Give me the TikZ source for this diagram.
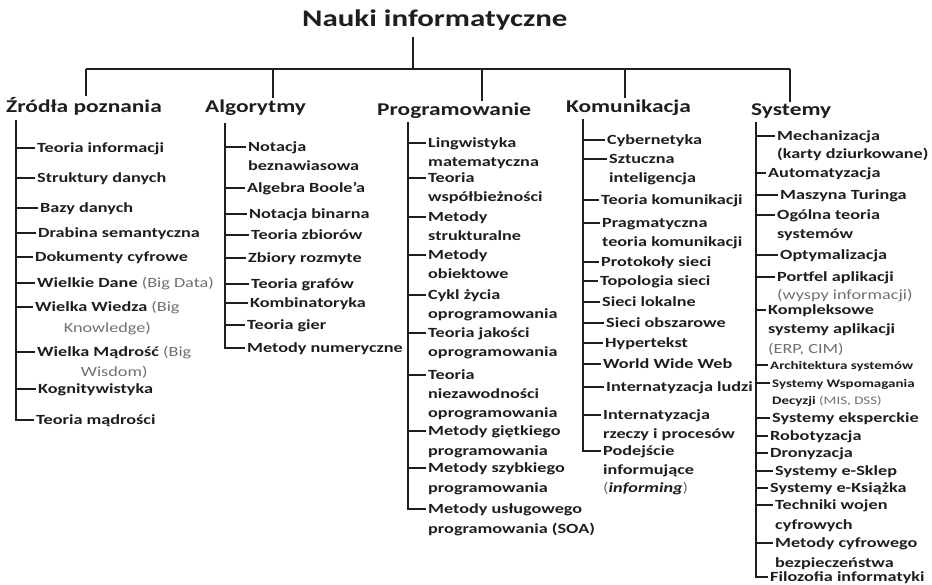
\documentclass[tikz,border=0pt]{standalone}
\usepackage{fontspec}
\setmainfont{Carlito}[FakeStretch=1.3]
\usetikzlibrary{calc}
\definecolor{ink}{HTML}{1E1E1E}
\definecolor{gr}{HTML}{707070}
\newcommand\gtx[1]{{\mdseries\color{gr}#1}}
% #1 extra options, #2 name, #3 trunk x, #4 text x, #5 tick y, #6 text
\newcommand\leaf[6][]{%
  \node[leaf,#1,anchor=base west] (#2) at ({#4-2},{#5+4.5})
    {\begin{tabular}[t]{@{}l@{}}#6\end{tabular}};
  \coordinate (#2-t) at (#3,#5);
  \draw[ln] (#2-t) -- (#2-t -| #2.west);
}
\newcommand\leafc[6][]{%
  \node[leaf,#1,anchor=base west] (#2) at ({#4-2},{#5+4.5})
    {\begin{tabular}[t]{@{}c@{}}#6\end{tabular}};
  \coordinate (#2-t) at (#3,#5);
  \draw[ln] (#2-t) -- (#2-t -| #2.west);
}
\begin{document}
\begin{tikzpicture}[x=1pt,y=-1pt,
  ln/.style={draw=ink,line width=1.3pt},
  leaf/.style={inner xsep=2pt,inner ysep=0pt,text=ink,
    font=\fontsize{14}{19.5}\selectfont\bfseries},
  small/.style={font=\fontsize{11.5}{17}\selectfont\bfseries},
  head/.style={inner xsep=0pt,inner ysep=2pt,text=ink,
    font=\fontsize{18}{22}\selectfont\bfseries},
  ttl/.style={inner xsep=0pt,inner ysep=6pt,text=ink,
    font=\fontsize{23.8}{28}\selectfont\bfseries}]
\useasboundingbox[fill=white] (0,0) rectangle (932,585);

% title and headings
\node[ttl,anchor=base west] (root) at (302,27) {Nauki informatyczne};
\node[head,anchor=base west] (h1) at (6,113) {Źródła poznania};
\node[head,anchor=base west] (h2) at (205,113) {Algorytmy};
\node[head,anchor=base west] (h3) at (377,116) {Programowanie};
\node[head,anchor=base west] (h4) at (566,113) {Komunikacja};
\node[head,anchor=base west] (h5) at (751,116) {Systemy};

% bar
\coordinate (k0) at (413,69);
\coordinate (k1) at (86,69);
\coordinate (k2) at (273,69);
\coordinate (k3) at (482,69);
\coordinate (k4) at (625,69);
\coordinate (k5) at (790,69);
\draw[ln] (k1) -- (k5);
\draw[ln] (root.south -| k0) -- (k0);
\foreach \i in {1,...,5} {\draw[ln] (k\i) -- (k\i |- h\i.north);}

% column 1
\leaf{a1}{16}{37}{148}{Teoria informacji}
\leaf{a2}{16}{37}{178}{Struktury danych}
\leaf{a3}{16}{40}{208}{Bazy danych}
\leaf{a4}{16}{38}{233}{Drabina semantyczna}
\leaf{a5}{16}{35}{257}{Dokumenty cyfrowe}
\leaf{a6}{16}{37}{283}{Wielkie Dane \gtx{(Big Data)}}
\leafc[font=\fontsize{14}{21}\selectfont\bfseries]{a7}{16}{35}{307}{Wielka Wiedza \gtx{(Big}\\\gtx{Knowledge)}}
\leafc[font=\fontsize{14}{20}\selectfont\bfseries]{a8}{16}{37}{352}{Wielka Mądrość \gtx{(Big}\\\gtx{Wisdom)}}
\leaf{a9}{16}{38}{389}{Kognitywistyka}
\leaf{a10}{16}{36}{420}{Teoria mądrości}
\coordinate (t1) at (16,120);
\draw[ln] (t1) -- (a10-t) -- (a10-t -| a10.west);

% column 2
\leaf[font=\fontsize{14}{19}\selectfont\bfseries]{b1}{225}{248}{147}{Notacja\\beznawiasowa}
\leaf{b2}{225}{247}{188}{Algebra Boole’a}
\leaf{b3}{225}{249}{214}{Notacja binarna}
\leaf{b4}{225}{251}{235}{Teoria zbiorów}
\leaf{b5}{225}{248}{258}{Zbiory rozmyte}
\leaf{b6}{225}{251}{284}{Teoria grafów}
\leaf{b7}{225}{250}{303}{Kombinatoryka}
\leaf{b8}{225}{247}{325}{Teoria gier}
\leaf{b9}{225}{247}{348}{Metody numeryczne}
\coordinate (t2) at (225,123);
\draw[ln] (t2) -- (b9-t) -- (b9-t -| b9.west);

% column 3
\leaf{c1}{408}{428}{143}{Lingwistyka\\matematyczna}
\leaf{c2}{408}{428}{178}{Teoria\\współbieżności}
\leaf{c3}{408}{428}{217}{Metody\\strukturalne}
\leaf{c4}{408}{428}{255}{Metody\\obiektowe}
\leaf{c5}{408}{428}{295}{Cykl życia\\oprogramowania}
\leaf{c6}{408}{428}{333}{Teoria jakości\\oprogramowania}
\leaf[font=\fontsize{14}{19}\selectfont\bfseries]{c7}{408}{428}{375}{Teoria\\niezawodności\\oprogramowania}
\leaf{c8}{408}{428}{431}{Metody giętkiego\\programowania}
\leaf{c9}{408}{428}{468}{Metody szybkiego\\programowania}
\leaf{c10}{408}{428}{509}{Metody usługowego\\programowania (SOA)}
\coordinate (t3) at (408,122);
\draw[ln] (t3) -- (c10-t) -- (c10-t -| c10.west);

% column 4
\leaf{d1}{583}{607}{140}{Cybernetyka}
\leaf[font=\fontsize{14}{19}\selectfont\bfseries]{d2}{583}{609}{159}{Sztuczna\\inteligencja}
\leaf{d3}{583}{601}{200}{Teoria komunikacji}
\leaf{d4}{583}{602}{223}{Pragmatyczna\\teoria komunikacji}
\leaf{d5}{583}{601}{262}{Protokoły sieci}
\leaf{d6}{583}{600}{281}{Topologia sieci}
\leaf{d7}{583}{602}{302}{Sieci lokalne}
\leaf{d8}{583}{606}{323}{Sieci obszarowe}
\leaf{d9}{583}{605}{343}{Hypertekst}
\leaf{d10}{583}{603}{364}{World Wide Web}
\leaf{d11}{583}{606}{387}{Internatyzacja ludzi}
\leaf[font=\fontsize{14}{18.5}\selectfont\bfseries]{d12}{583}{603}{415}{Internatyzacja\\rzeczy i procesów}
\leaf[font=\fontsize{14}{18.5}\selectfont\bfseries]{d13}{583}{603}{451}{Podejście\\informujące\\\gtx{(}{\itshape informing}\gtx{)}}
\coordinate (t4) at (583,119);
\draw[ln] (t4) -- (d13-t) -- (d13-t -| d13.west);

% column 5
\leaf[font=\fontsize{14}{18.5}\selectfont\bfseries]{e1}{756}{777}{136}{Mechanizacja\\(karty dziurkowane)}
\leaf{e2}{756}{768}{173}{Automatyzacja}
\leaf{e3}{756}{780}{195}{Maszyna Turinga}
\leaf{e4}{756}{777}{215}{Ogólna teoria\\systemów}
\leaf{e5}{756}{780}{255}{Optymalizacja}
\leaf[font=\fontsize{14}{18.5}\selectfont\bfseries]{e6}{756}{777}{277}{Portfel aplikacji\\\gtx{(wyspy informacji)}}
\leaf{e7}{756}{768}{310}{Kompleksowe\\systemy aplikacji\\\gtx{(ERP, CIM)}}
\leaf[small]{e8}{756}{770}{365}{Architektura systemów}
\leaf[small]{e9}{756}{772}{383}{Systemy Wspomagania\\Decyzji \gtx{(MIS, DSS)}}
\leaf{e10}{756}{772}{418}{Systemy eksperckie}
\leaf{e11}{756}{770}{436}{Robotyzacja}
\leaf{e12}{756}{770}{453}{Dronyzacja}
\leaf{e13}{756}{775}{471}{Systemy e-Sklep}
\leaf{e14}{756}{770}{488}{Systemy e-Książka}
\leaf{e15}{756}{775}{505}{Techniki wojen\\cyfrowych}
\leaf{e16}{756}{775}{543}{Metody cyfrowego\\bezpieczeństwa}
\leaf{e17}{756}{770}{577}{Filozofia informatyki}
\coordinate (t5) at (756,122);
\draw[ln] (t5) -- (e17-t) -- (e17-t -| e17.west);
\end{tikzpicture}
\end{document}
